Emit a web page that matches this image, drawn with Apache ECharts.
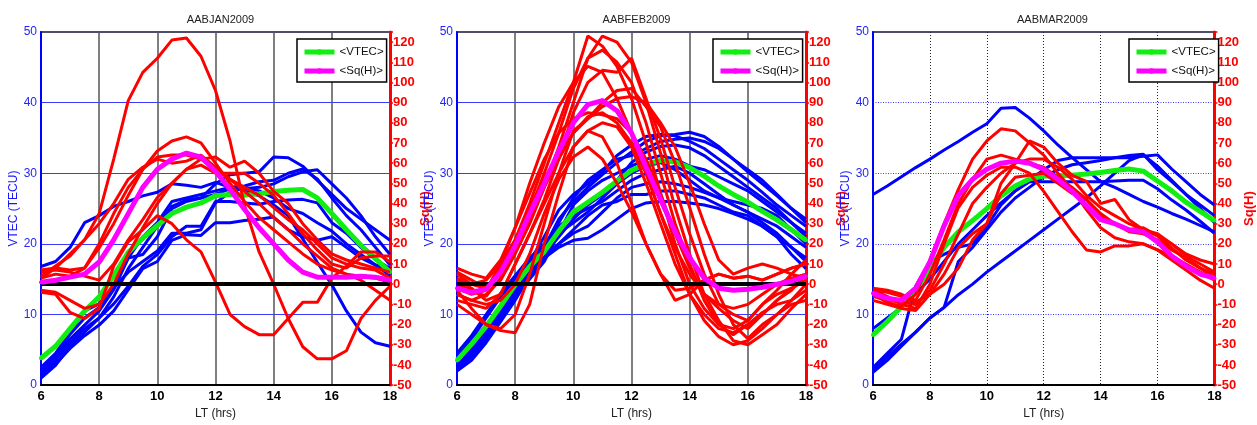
<!DOCTYPE html>
<html>
<head>
<meta charset="utf-8">
<script src="https://cdn.jsdelivr.net/npm/echarts@6/dist/echarts.min.js"></script>
<style>
  html, body { margin: 0; padding: 0; background: #ffffff; }
  #chart { width: 1257px; height: 425px; }
</style>
</head>
<body>
<div id="chart"></div>
<script>
// Local time sample points (half-hour steps, 06:00 - 18:00 LT)
const hours = [6, 6.5, 7, 7.5, 8, 8.5, 9, 9.5, 10, 10.5, 11, 11.5, 12, 12.5, 13, 13.5, 14, 14.5, 15, 15.5, 16, 16.5, 17, 17.5, 18];

const panelTitles = ['AABJAN2009', 'AABFEB2009', 'AABMAR2009'];
const ltTicks = [6, 8, 10, 12, 14, 16, 18];
const vtecTicks = [0, 10, 20, 30, 40, 50];
const sqTicks = [-50, -40, -30, -20, -10, 0, 10, 20, 30, 40, 50, 60, 70, 80, 90, 100, 110, 120];
const sqAxisTop = 125;

// ---------- January ----------
const janVtecMean = [3.8, 5.5, 8.0, 10.5, 12.5, 15.5, 18.8, 20.8, 22.6, 24.3, 25.2, 25.8, 26.8, 27.0, 26.9, 27.1, 27.4, 27.6, 27.7, 26.5, 24.3, 22.0, 19.8, 17.9, 16.0];
const janSqMean = [1, 2, 3.5, 5, 11, 22, 35, 48, 57, 62, 65, 63, 56, 47, 37, 28, 20, 12, 6, 3.5, 3.5, 3.5, 4, 3.5, 2];
const janVtec = [
  [16.8, 17.5, 19.5, 23.0, 24.0, 25.3, 26.0, 26.8, 27.3, 28.5, 28.3, 28.0, 28.7, 28.0, 27.5, 26.8, 25.5, 24.0, 20.7, 17.4, 14.2, 10.5, 7.5, 6.0, 5.5],
  [1.0, 2.8, 5.5, 7.5, 9.5, 12.5, 16.5, 19.5, 22.5, 25.3, 26.2, 26.5, 28.5, 29.8, 30.0, 30.2, 32.3, 32.2, 31.0, 29.0, 27.0, 25.0, 23.5, 22.0, 20.5],
  [2.0, 4.0, 6.5, 8.5, 10.5, 13.5, 18.0, 21.0, 23.0, 26.0, 26.5, 27.0, 27.5, 28.0, 28.2, 28.8, 29.0, 30.0, 30.6, 29.2, 26.5, 24.0, 22.0, 19.5, 17.0],
  [1.5, 3.5, 6.0, 8.0, 9.5, 11.5, 14.0, 16.8, 18.5, 21.0, 22.5, 22.5, 26.0, 26.0, 25.8, 25.6, 26.0, 26.2, 26.3, 25.8, 23.0, 21.5, 19.5, 17.8, 16.5],
  [1.2, 3.0, 5.2, 7.0, 8.5, 10.5, 13.5, 16.5, 17.5, 20.5, 21.3, 21.2, 23.0, 23.0, 23.3, 23.5, 23.8, 22.0, 21.0, 20.5, 21.0, 19.5, 18.0, 17.0, 16.5],
  [1.8, 4.2, 7.2, 9.5, 11.0, 14.0, 18.0, 18.5, 21.0, 25.0, 26.0, 26.5, 27.0, 27.8, 27.8, 28.0, 28.5, 29.5, 30.2, 30.5, 28.5, 26.5, 24.0, 21.0, 18.5],
  [2.5, 4.5, 7.5, 10.5, 11.5, 13.8, 16.0, 17.5, 19.0, 21.5, 21.5, 22.0, 25.8, 27.3, 28.0, 27.5, 26.5, 25.0, 24.3, 23.0, 21.8, 20.0, 18.5, 17.0, 15.5]
];
const janSq = [
  [4, 9, 14, 22, 35, 62, 91, 105, 112, 121, 122, 113, 96, 71, 39, 16, 0, -17, -31, -37, -37, -33, -17, -8, -1],
  [3, 5, 4, 8, 18, 30, 44, 57, 66, 71, 73, 70, 60, 50, 41, 33, 27, 21, 15, 10, 7, 5, 4, 3, 1],
  [-4, -5, -14, -17, -12, 9, 21, 27, 34, 30, 22, 16, 1, -15, -21, -25, -25, -17, -9, -9, 3, 9, 16, 16, 11],
  [7, 8, 7, 8, 20, 35, 48, 57, 63, 64, 64, 62, 57, 52, 46, 40, 33, 27, 20, 14, 8, 5, 2, -3, -8],
  [-3, -4, -8, -12, -10, 0, 15, 28, 40, 50, 57, 62, 63, 58, 61, 55, 46, 40, 30, 22, 15, 12, 10, 8, 6],
  [6, 7, 6, 4, 2, 10, 22, 32, 43, 50, 57, 59, 55, 55, 55, 50, 44, 35, 25, 17, 10, 8, 13, 14, 14],
  [3, 8, 15, 22, 30, 40, 52, 58, 62, 60, 61, 64, 58, 52, 48, 44, 38, 32, 27, 20, 13, 10, 8, 7, 3]
];

// ---------- February ----------
const febVtecMean = [3.5, 5.8, 8.3, 11.2, 14.2, 16.8, 18.9, 21.8, 24.5, 25.9, 27.3, 28.9, 30.4, 31.3, 31.8, 31.6, 30.8, 29.6, 28.2, 27.0, 25.9, 24.6, 23.4, 22.0, 20.5];
const febSqMean = [-2, -4, -2.5, 6, 19, 35, 50, 66, 80, 89, 91, 86, 75, 58, 42, 26, 13, 3, -2, -3, -2.5, -1.5, 0, 1.5, 4];
const febVtec = [
  [2.5, 4.5, 7.0, 10.0, 13.0, 16.5, 19.5, 23.5, 26.0, 28.0, 29.8, 31.5, 33.0, 34.5, 35.3, 35.5, 35.8, 35.2, 33.8, 32.0, 30.2, 28.5, 26.8, 25.0, 23.5],
  [3.0, 5.0, 7.8, 10.8, 14.0, 17.5, 21.0, 24.8, 27.0, 28.5, 30.2, 32.5, 34.0, 35.2, 35.5, 35.3, 34.5, 33.5, 32.0, 30.5, 29.0, 27.3, 25.5, 24.0, 22.5],
  [2.2, 4.0, 6.5, 9.5, 12.5, 15.5, 18.5, 21.0, 23.5, 25.5, 27.0, 29.0, 31.5, 33.0, 33.8, 34.0, 33.6, 32.5, 31.0, 29.5, 28.0, 26.5, 25.0, 23.0, 21.0],
  [4.0, 6.0, 8.5, 11.0, 14.0, 16.5, 18.0, 19.5, 20.5, 20.8, 22.0, 23.5, 25.0, 25.8, 26.0, 26.0, 25.8, 25.5, 25.0, 24.3, 23.5, 22.5, 21.0, 19.5, 18.0],
  [3.2, 5.2, 7.8, 10.5, 13.5, 16.0, 18.5, 20.0, 21.5, 22.5, 24.5, 26.5, 28.0, 28.5, 28.8, 28.5, 28.0, 27.3, 26.5, 25.5, 24.5, 23.0, 21.5, 19.5, 17.5],
  [2.8, 4.8, 7.2, 9.8, 12.5, 15.0, 17.5, 21.5, 25.5, 27.5, 29.0, 30.0, 31.0, 32.0, 32.5, 32.0, 31.0, 30.5, 29.5, 28.5, 27.5, 26.0, 24.5, 23.0, 21.5],
  [3.8, 6.5, 9.5, 12.5, 15.0, 17.5, 20.0, 22.5, 24.0, 25.0, 26.0, 27.5, 29.0, 30.0, 30.5, 31.0, 30.0, 28.5, 27.0, 25.5, 24.5, 23.5, 22.5, 21.0, 19.5],
  [2.0, 3.5, 6.0, 9.0, 12.0, 15.5, 19.0, 23.0, 26.5, 29.0, 30.5, 32.0, 32.5, 33.5, 34.5, 34.8, 35.0, 34.5, 33.5, 32.0, 30.5, 29.0, 27.0, 25.0, 23.0],
  [3.5, 5.5, 8.0, 10.5, 13.0, 15.5, 18.0, 20.0, 22.0, 24.0, 25.5, 26.0, 27.0, 27.0, 27.5, 27.5, 27.0, 26.5, 25.5, 24.5, 24.0, 22.5, 21.0, 18.5, 16.5],
  [4.5, 7.0, 10.0, 13.0, 15.5, 18.0, 20.0, 21.5, 23.0, 24.5, 26.5, 28.5, 30.0, 31.0, 31.5, 30.5, 29.0, 27.5, 26.5, 26.0, 25.5, 25.0, 24.0, 22.0, 20.0]
];
const febSq = [
  [5, 0, -2, 8, 22, 40, 60, 80, 100, 123, 118, 108, 92, 70, 45, 20, 0, -12, -20, -25, -20, -15, -8, -3, 5],
  [-5, -8, -5, 2, 15, 30, 48, 68, 90, 112, 123, 120, 110, 90, 65, 38, 15, -5, -18, -28, -30, -25, -20, -12, -5],
  [0, -3, -6, 3, 18, 36, 55, 75, 97, 112, 116, 110, 100, 80, 55, 30, 10, -8, -20, -22, -18, -10, -5, -2, 2],
  [2, -2, -8, -5, 10, 25, 42, 62, 85, 100, 106, 105, 112, 92, 72, 48, 25, 5, -10, -15, -18, -10, -3, 5, 12],
  [-3, -12, -20, -22, -15, 5, 30, 55, 76, 82, 90, 96, 97, 88, 78, 60, 38, 15, -5, -20, -27, -20, -15, -10, -8],
  [-10, -15, -20, -23, -24, -10, 20, 45, 68, 76, 73, 60, 40, 20, 5, -8, -5, 2, 5, 3, 4, 2, 5, 8, 10],
  [6, 2, -2, 5, 18, 32, 48, 62, 75, 83, 85, 80, 70, 55, 35, 15, -5, -18, -26, -30, -28, -22, -15, -8, 0],
  [-8, -10, -12, -5, 10, 25, 40, 55, 68, 76, 80, 78, 68, 50, 30, 10, -5, -15, -22, -24, -20, -14, -10, -8, -3],
  [-5, -8, -10, -8, 0, 15, 35, 52, 63, 68, 62, 50, 36, 20, 5, -3, -2, 2, 5, 3, 4, 2, 5, 8, 10],
  [3, 0, 2, 10, 22, 38, 52, 65, 75, 82, 88, 92, 93, 90, 80, 68, 50, 30, 12, 5, 8, 10, 8, 5, 3],
  [-2, -5, -3, 10, 28, 50, 70, 88, 100, 108, 105, 92, 75, 55, 35, 18, 5, -5, -10, -12, -10, -5, 0, 3, 5],
  [8, 5, 3, 12, 28, 45, 62, 75, 82, 85, 84, 82, 75, 62, 45, 25, 8, -5, -12, -18, -22, -15, -8, -2, 2]
];

// ---------- March ----------
const marVtecMean = [7.1, 9.0, 11.1, 13.5, 16.5, 19.5, 21.7, 23.3, 25.0, 26.8, 28.2, 29.2, 29.6, 29.6, 29.7, 29.9, 30.1, 30.4, 30.6, 30.3, 28.9, 27.5, 25.9, 24.6, 23.3];
const marSqMean = [-4.5, -7, -8, -2, 11, 29, 44, 52, 57, 60, 61, 60, 57, 52, 46, 39, 32, 30, 27, 26, 21, 14, 9, 5, 3];
const marVtec = [
  [27.0, 28.2, 29.5, 30.8, 32.0, 33.3, 34.5, 35.8, 37.0, 39.2, 39.3, 37.8, 36.0, 34.0, 32.2, 30.5, 28.8, 28.0, 27.0, 26.0, 25.2, 24.3, 23.5, 22.6, 21.7],
  [1.8, 3.5, 5.5, 7.5, 9.5, 11.0, 12.8, 14.3, 16.0, 17.5, 19.0, 20.5, 22.0, 23.5, 25.0, 26.5, 28.2, 30.0, 31.8, 32.6, 31.0, 29.0, 27.0, 25.5, 24.0],
  [2.5, 4.5, 6.5, 14.0, 17.5, 18.5, 19.5, 20.0, 22.5, 25.5, 27.5, 28.8, 28.8, 28.8, 28.8, 28.8, 28.8, 28.9, 29.0, 29.0, 27.8, 26.2, 24.8, 23.2, 21.5],
  [8.0, 9.5, 11.0, 13.0, 15.0, 17.5, 20.0, 22.0, 24.0, 25.8, 27.5, 29.0, 30.5, 31.8, 32.2, 32.2, 32.2, 32.2, 32.2, 32.4, 32.6, 30.6, 28.8, 27.0, 25.5],
  [2.2, 4.0, 5.8, 7.5, 9.5, 11.0, 17.5, 19.5, 22.0, 24.5, 26.5, 28.0, 29.5, 30.5, 31.2, 31.5, 31.8, 32.2, 32.5, 32.7, 30.5, 28.8, 27.0, 25.0, 23.0]
];
const marSq = [
  [-5, -9, -11, -5, 12, 30, 47, 62, 71, 77, 76, 70, 64, 55, 47, 37, 28, 23, 21, 20, 17, 14, 10, 6, 2],
  [-3, -4, -6, -9, -5, 5, 18, 25, 30, 50, 60, 71, 68, 60, 54, 51, 40, 42, 32, 27, 25, 20, 15, 12, 10],
  [-3, -6, -10, -12, 0, 20, 38, 48, 54, 58, 58, 55, 46, 36, 26, 17, 16, 19, 19, 20, 17, 12, 7, 2, -2],
  [-2, -3, -5, -8, 5, 22, 40, 52, 62, 64, 62, 60, 58, 53, 48, 42, 34, 30, 27, 28, 24, 18, 12, 8, 5],
  [-8, -10, -12, -13, -5, 0, 8, 22, 30, 45, 53, 54, 55, 50, 45, 42, 35, 30, 26, 25, 22, 17, 13, 8, 3],
  [-6, -8, -9, -10, -3, 10, 25, 40, 48, 55, 60, 62, 62, 58, 52, 44, 38, 34, 30, 27, 24, 20, 14, 10, 6]
];

// ---------- layout ----------
const FONT = "'Liberation Sans', Arial, Helvetica, sans-serif";
const NARROW = "'Liberation Sans Narrow', 'Liberation Sans', Arial, sans-serif";
const PLOT_TOP = 32, PLOT_H = 355, PLOT_W = 349;
const panels = [
  { title: panelTitles[0], left: 41,  vtec: janVtec, sq: janSq, vtecMean: janVtecMean, sqMean: janSqMean, zeroLine: true,  dotted: false },
  { title: panelTitles[1], left: 457, vtec: febVtec, sq: febSq, vtecMean: febVtecMean, sqMean: febSqMean, zeroLine: true,  dotted: false },
  { title: panelTitles[2], left: 873, vtec: marVtec, sq: marSq, vtecMean: marVtecMean, sqMean: marSqMean, zeroLine: false, dotted: true }
];

const pairs = arr => hours.map((h, i) => [h, arr[i]]);

const grid = [], xAxis = [], yAxis = [], series = [], title = [], legend = [];

panels.forEach((p, k) => {
  grid.push({
    left: p.left, top: PLOT_TOP, width: PLOT_W, height: PLOT_H,
    show: true, borderColor: '#15153a', borderWidth: 1.5, backgroundColor: 'transparent'
  });

  title.push({
    text: p.title, left: p.left + PLOT_W / 2, top: 9, textAlign: 'center',
    textStyle: { fontFamily: FONT, fontSize: 11, fontWeight: 'normal', color: '#222' }
  });

  xAxis.push({
    type: 'value', gridIndex: k,
    min: ltTicks[0], max: ltTicks[ltTicks.length - 1], interval: ltTicks[1] - ltTicks[0],
    name: 'LT (hrs)', nameLocation: 'middle', nameGap: 21,
    nameTextStyle: { fontFamily: FONT, fontSize: 12, color: '#222' },
    axisLine: { onZero: false, lineStyle: { color: '#000', width: 2 } },
    axisTick: { show: false },
    axisLabel: { fontFamily: FONT, fontSize: 13, fontWeight: 'bold', color: '#000', margin: 5 },
    splitLine: {
      show: true, showMinLine: false, showMaxLine: false,
      lineStyle: p.dotted ? { color: '#222', width: 1, type: [1, 2] } : { color: '#555', width: 1.5 }
    }
  });

  yAxis.push({
    type: 'value', gridIndex: k, position: 'left',
    min: vtecTicks[0], max: vtecTicks[vtecTicks.length - 1], interval: vtecTicks[1] - vtecTicks[0],
    name: 'VTEC (TECU)', nameLocation: 'middle', nameGap: 21,
    nameTextStyle: { fontFamily: FONT, fontSize: 12, color: '#1515ff' },
    axisLine: { show: true, onZero: false, lineStyle: { color: '#0000ff', width: 2 } },
    axisTick: { show: false },
    axisLabel: { fontFamily: FONT, fontSize: 12, color: '#2424ff', margin: 4 },
    splitLine: {
      show: true, showMinLine: false, showMaxLine: false,
      lineStyle: p.dotted ? { color: '#3a3aff', width: 1, type: [1, 1.5] } : { color: '#3a3aff', width: 1 }
    }
  });

  yAxis.push({
    type: 'value', gridIndex: k, position: 'right',
    min: sqTicks[0], max: sqAxisTop, interval: sqTicks[1] - sqTicks[0],
    name: 'Sq(H)', nameLocation: 'middle', nameGap: 22,
    nameTextStyle: { fontFamily: FONT, fontSize: 13, fontWeight: 'bold', color: '#ff0000' },
    axisLine: { show: true, onZero: false, lineStyle: { color: '#ff0000', width: 3 } },
    axisTick: { show: true, inside: false, length: 3, lineStyle: { color: '#ff0000', width: 1.5 } },
    axisLabel: {
      fontFamily: NARROW, fontSize: 13, fontWeight: 'bold', color: '#ff0000', margin: 3,
      formatter: v => (sqTicks.includes(v) ? String(v) : '')
    },
    splitLine: { show: false }
  });

  const vIdx = 2 * k, sIdx = 2 * k + 1;

  p.vtec.forEach(c => series.push({
    type: 'line', xAxisIndex: k, yAxisIndex: vIdx, data: pairs(c),
    showSymbol: false, silent: true, z: 2,
    lineStyle: { color: '#0000ff', width: 3 }
  }));

  series.push({
    name: '<VTEC>', type: 'line', xAxisIndex: k, yAxisIndex: vIdx, data: pairs(p.vtecMean),
    symbol: 'circle', symbolSize: 4, showSymbol: true, silent: true, z: 3,
    itemStyle: { color: '#11ee11' }, lineStyle: { color: '#11ee11', width: 5 }
  });

  p.sq.forEach(c => series.push({
    type: 'line', xAxisIndex: k, yAxisIndex: sIdx, data: pairs(c),
    showSymbol: false, silent: true, z: 4,
    lineStyle: { color: '#ff0000', width: 3 }
  }));

  const sqMeanSeries = {
    name: '<Sq(H)>', type: 'line', xAxisIndex: k, yAxisIndex: sIdx, data: pairs(p.sqMean),
    symbol: 'circle', symbolSize: 4, showSymbol: true, silent: true, z: 5,
    itemStyle: { color: '#ff00ff' }, lineStyle: { color: '#ff00ff', width: 5 }
  };
  if (p.zeroLine) {
    sqMeanSeries.markLine = {
      silent: true, symbol: 'none', label: { show: false },
      lineStyle: { color: '#000', width: 4, type: 'solid' },
      data: [{ yAxis: 0 }]
    };
  }
  series.push(sqMeanSeries);

  legend.push({
    data: ['<VTEC>', '<Sq(H)>'],
    orient: 'vertical', left: p.left + PLOT_W - 93, top: 39,
    backgroundColor: '#fff', borderColor: '#000', borderWidth: 1.5, borderRadius: 0,
    padding: [7, 3, 5, 5], itemGap: 7, itemWidth: 30, itemHeight: 7,
    lineStyle: { width: 5 },
    textStyle: { fontFamily: FONT, fontSize: 11.5, color: '#111' },
    selectedMode: false
  });
});

const chart = echarts.init(document.getElementById('chart'), null, { renderer: 'canvas' });
chart.setOption({
  animation: false,
  backgroundColor: '#ffffff',
  title, legend, grid, xAxis, yAxis, series
});
</script>
</body>
</html>
